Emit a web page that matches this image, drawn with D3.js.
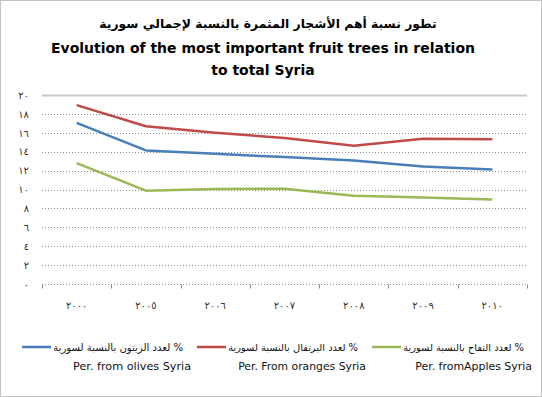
<!DOCTYPE html>
<html>
<head>
<meta charset="utf-8">
<script src="https://cdn.jsdelivr.net/npm/d3@7"></script>
<style>
  body { margin: 0; background: #fff; }
  text { font-family: "DejaVu Sans", sans-serif; }
</style>
</head>
<body>
<div class="container"></div>
<script>
// data
const years = ['٢٠٠٠', '٢٠٠٥', '٢٠٠٦', '٢٠٠٧', '٢٠٠٨', '٢٠٠٩', '٢٠١٠'];
const olives = [17.05, 14.14, 13.78, 13.43, 13.07, 12.43, 12.11];
const oranges = [18.93, 16.7, 16.0, 15.45, 14.64, 15.38, 15.31];
const apples = [12.79, 9.88, 10.05, 10.09, 9.34, 9.16, 8.95];
const yTicks = [0, 2, 4, 6, 8, 10, 12, 14, 16, 18, 20];
const toArabic = n => String(n).replace(/\d/g, d => '٠١٢٣٤٥٦٧٨٩'[d]);

const series = [
  { ar: '% لعدد الزيتون بالنسبة لسورية', en: 'Per. from olives Syria', values: olives, color: '#4a7ebb' },
  { ar: '% لعدد البرتقال بالنسبة لسورية', en: 'Per. From oranges Syria', values: oranges, color: '#be4b48' },
  { ar: '% لعدد التفاح بالنسبة لسورية', en: 'Per. fromApples Syria', values: apples, color: '#98b954' }
];

const w = 542;
const h = 397;
const [margin_top, margin_left, margin_bottom, margin_right] = [95, 42, 113, 15];
const plotWidth = w - margin_left - margin_right;
const plotHeight = h - margin_top - margin_bottom;

const svg = d3.select('.container')
              .append('svg')
              .attr('width', w)
              .attr('height', h);

// outer border
svg.append('rect')
   .attr('x', 0.5).attr('y', 0.5)
   .attr('width', w - 1).attr('height', h - 1)
   .attr('fill', 'none')
   .attr('stroke', '#888')
   .attr('stroke-dasharray', '1,1');

// titles
const fitText = (sel, target) => {
  const len = sel.node().getComputedTextLength();
  sel.attr('font-size', parseFloat(sel.attr('font-size')) * target / len);
};
const t1 = svg.append('text')
   .attr('x', 268).attr('y', 28)
   .attr('text-anchor', 'middle')
   .attr('font-size', 16).attr('font-weight', 'bold')
   .attr('direction', 'rtl')
   .text('تطور نسبة أهم الأشجار المثمرة بالنسبة لإجمالي سورية');
fitText(t1, 338);
const t2 = svg.append('text')
   .attr('x', 263).attr('y', 53)
   .attr('text-anchor', 'middle')
   .attr('font-family', 'Lato, sans-serif')
   .attr('font-size', 16).attr('font-weight', 'bold')
   .text('Evolution of the most important fruit trees in relation');
fitText(t2, 424);
svg.append('text')
   .attr('x', 263).attr('y', 75)
   .attr('text-anchor', 'middle')
   .attr('font-family', 'Lato, sans-serif')
   .attr('font-size', t2.attr('font-size')).attr('font-weight', 'bold')
   .text('to total Syria');

const plot = svg.append('g')
                .attr('transform', `translate(${margin_left}, ${margin_top})`);

const y = d3.scaleLinear().domain([0, 20]).range([plotHeight, 0]);
const x = d3.scaleBand().domain(years).range([0, plotWidth]);

// gridlines
plot.append('g')
    .selectAll('line')
    .data(yTicks.filter(d => d > 0))
    .join('line')
    .attr('x1', 0).attr('x2', plotWidth)
    .attr('y1', d => Math.round(y(d)) + 0.5)
    .attr('y2', d => Math.round(y(d)) + 0.5)
    .attr('stroke', d => d === 20 ? '#c8c8c8' : '#8c8c8c')
    .attr('stroke-width', d => d === 20 ? 2 : 1)
    .attr('stroke-dasharray', d => d === 20 ? null : '1,2');

// axes
const yAxis = d3.axisLeft(y)
                .tickValues(yTicks)
                .tickSize(0)
                .tickPadding(13)
                .tickFormat(toArabic);
const yGroup = plot.append('g').call(yAxis);
yGroup.select('.domain').remove();
yGroup.selectAll('text')
      .attr('font-size', 10)
      .attr('fill', '#333');

const xGroup = plot.append('g')
                   .attr('transform', `translate(0, ${Math.round(plotHeight) + 0.5})`);
xGroup.append('line')
      .attr('x1', 0).attr('x2', plotWidth)
      .attr('stroke', '#8c8c8c')
      .attr('stroke-dasharray', '1,2');
xGroup.selectAll('.tick-mark')
      .data(d3.range(years.length + 1))
      .join('line')
      .attr('class', 'tick-mark')
      .attr('x1', i => Math.round(i * x.step()) + 0.5)
      .attr('x2', i => Math.round(i * x.step()) + 0.5)
      .attr('y1', 0).attr('y2', 4)
      .attr('stroke', '#8c8c8c');
xGroup.selectAll('.xlabel')
      .data(years)
      .join('text')
      .attr('class', 'xlabel')
      .attr('x', d => x(d) + x.bandwidth() / 2)
      .attr('y', 24)
      .attr('text-anchor', 'middle')
      .attr('font-size', 10)
      .attr('fill', '#333')
      .text(d => d);

// lines
const line = d3.line()
               .x((d, i) => x(years[i]) + x.bandwidth() / 2)
               .y(d => y(d));
plot.selectAll('.series')
    .data(series)
    .join('path')
    .attr('class', 'series')
    .attr('d', d => line(d.values))
    .attr('fill', 'none')
    .attr('stroke', d => d.color)
    .attr('stroke-width', 2.5)
    .attr('stroke-linejoin', 'round');

// legend
const legendPos = [
  { lx: 22, ar: 183, en: 191, enw: 118 },
  { lx: 197, ar: 358, en: 366, enw: 128 },
  { lx: 372, ar: 524, en: 532, enw: 117 }
];
const legend = svg.append('g');
series.forEach((s, i) => {
  const p = legendPos[i];
  legend.append('line')
        .attr('x1', p.lx).attr('x2', p.lx + 29)
        .attr('y1', 347).attr('y2', 347)
        .attr('stroke', s.color)
        .attr('stroke-width', 2.5);
  const ar = legend.append('text')
        .attr('x', p.ar).attr('y', 351)
        .attr('direction', 'rtl')
        .attr('text-anchor', 'start')
        .attr('font-size', 11)
        .attr('fill', '#111')
        .text(s.ar);
  fitText(ar, p.ar - p.lx - 31);
  const en = legend.append('text')
        .attr('x', p.en).attr('y', 370)
        .attr('text-anchor', 'end')
        .attr('font-family', 'Lato, sans-serif')
        .attr('font-size', 12)
        .attr('fill', '#111')
        .text(s.en);
  fitText(en, p.enw);
});
</script>
</body>
</html>
